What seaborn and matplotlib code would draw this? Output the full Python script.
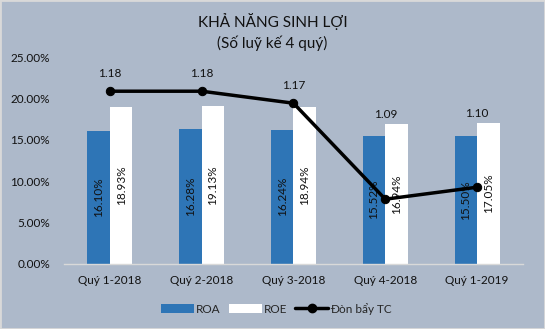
import matplotlib
matplotlib.use("Agg")
import matplotlib.pyplot as plt
import seaborn as sns
import pandas as pd
from matplotlib.lines import Line2D
from matplotlib.patches import Patch

categories = ["Quý 1-2018", "Quý 2-2018", "Quý 3-2018", "Quý 4-2018", "Quý 1-2019"]
roa = [16.10, 16.28, 16.24, 15.52, 15.50]
roe = [18.93, 19.13, 18.94, 16.94, 17.05]
leverage = [1.18, 1.18, 1.17, 1.09, 1.10]
yticks = [0, 5, 10, 15, 20, 25]

# vertical offsets (points) of the leverage labels above their markers
label_offsets = [12.5, 12.5, 12.5, 61, 53]

sns.set_theme(style="white")
plt.rcParams['font.family'] = ['Lato', 'DejaVu Sans']

BG = "#ADB9CA"
BLUE = "#2E75B6"

df = pd.DataFrame({
    "cat": categories * 2,
    "val": roa + roe,
    "series": ["ROA"] * len(roa) + ["ROE"] * len(roe),
})

fig = plt.figure(figsize=(5.45, 3.29), dpi=100, facecolor=BG)
ax = fig.add_axes([0.1174, 0.1976, 0.8422, 0.6291])
ax.set_facecolor(BG)

sns.barplot(data=df, x="cat", y="val", hue="series", palette=[BLUE, "white"],
            width=0.49, gap=0, ax=ax, legend=False, saturation=1, edgecolor="none")

for cont in ax.containers:
    for bar, v in zip(cont, cont.datavalues):
        ax.text(bar.get_x() + bar.get_width() / 2, v / 2, f"{v:.2f}%",
                rotation=90, ha="center", va="center", fontsize=8.5, color="#111111")

ax.set_ylim(0, 25)
ax.set_xlim(-0.5, 4.5)
ax.set_yticks(yticks)
ax.set_yticklabels([f"{t:.2f}%" for t in yticks], fontsize=8.5, color="#111111")
ax.tick_params(axis="x", labelsize=8.5, colors="#111111", length=0, pad=8)
ax.tick_params(axis="y", length=0, pad=10)
ax.set_xlabel("")
ax.set_ylabel("")
for s in ["top", "right", "left"]:
    ax.spines[s].set_visible(False)
ax.spines["bottom"].set_color("#D9D9D9")
ax.spines["bottom"].set_linewidth(1)

ax2 = ax.twinx()
sns.lineplot(x=list(range(len(categories))), y=leverage, ax=ax2, color="black",
             linewidth=2.5, marker="o", markersize=6, markeredgecolor="black")
ax2.set_ylim(1.036, 1.2085)
ax2.axis("off")
for i, (v, off) in enumerate(zip(leverage, label_offsets)):
    ax2.annotate(f"{v:.2f}", (i, v), xytext=(0, off), textcoords="offset points",
                 ha="center", va="center", fontsize=8.5, color="#111111")

fig.text(0.5, 0.935, "KHẢ NĂNG SINH LỢI", ha="center", va="center", fontsize=11, color="#111111")
fig.text(0.5, 0.868, "(Số luỹ kế 4 quý)", ha="center", va="center", fontsize=11, color="#111111")

handles = [Patch(facecolor=BLUE, edgecolor="none"),
           Patch(facecolor="white", edgecolor="none"),
           Line2D([0], [0], color="black", linewidth=2.5, marker="o", markersize=6)]
fig.legend(handles, ["ROA", "ROE", "Đòn bẩy TC"], loc="center", bbox_to_anchor=(0.507, 0.062),
           ncol=3, frameon=False, fontsize=8.5, handlelength=2.8, handletextpad=0.15,
           columnspacing=0.7, handleheight=0.7)

fig.patches.append(plt.Rectangle((0, 0), 1, 1, transform=fig.transFigure, fill=False,
                                 edgecolor="#D9D9D9", linewidth=2))

fig.savefig("out.png", dpi=100, facecolor=BG)
